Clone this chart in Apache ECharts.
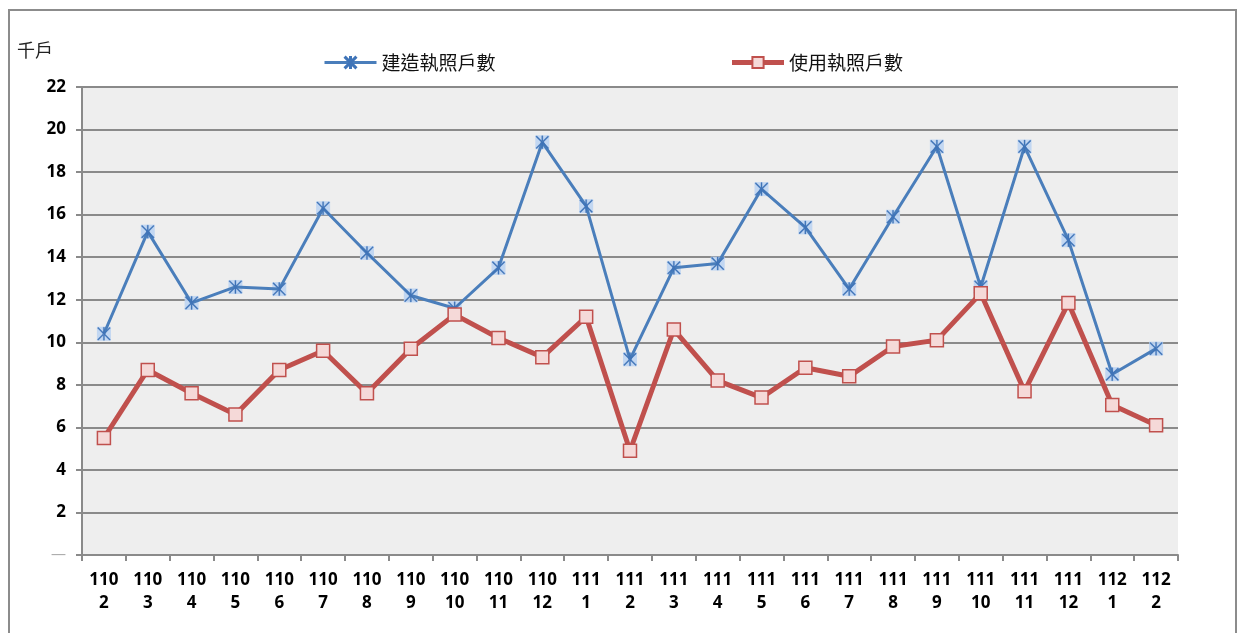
<!DOCTYPE html>
<html>
<head>
<meta charset="utf-8">
<script src="https://cdn.jsdelivr.net/npm/echarts@6/dist/echarts.min.js"></script>
<style>
html,body{margin:0;padding:0;background:#fff;}
#c{width:1244px;height:633px;}
</style>
</head>
<body>
<div id="c"></div>
<script>
const categories = ['110\n2','110\n3','110\n4','110\n5','110\n6','110\n7','110\n8','110\n9','110\n10','110\n11','110\n12',
  '111\n1','111\n2','111\n3','111\n4','111\n5','111\n6','111\n7','111\n8','111\n9','111\n10','111\n11','111\n12',
  '112\n1','112\n2'];
const buildPermits = [10.4,15.2,11.85,12.6,12.5,16.3,14.2,12.2,11.6,13.5,19.4,16.4,9.2,13.5,13.7,17.2,15.4,12.5,15.9,19.2,12.6,19.2,14.8,8.5,9.7];
const usePermits = [5.5,8.7,7.6,6.6,8.7,9.6,7.6,9.7,11.3,10.2,9.3,11.2,4.9,10.6,8.2,7.4,8.8,8.4,9.8,10.1,12.3,7.7,11.85,7.05,6.1];
const seriesNames = ['建造執照戶數','使用執照戶數'];
const unitLabel = '千戶';

const starPath = 'path://M9.1,0L10.9,0L10.9,20L9.1,20Z M0,1.3L1.3,0L20,18.7L18.7,20Z M20,1.3L18.7,0L0,18.7L1.3,20Z';
const gridColor = '#8a8a8a';
const numFont = 'Open Sans';

const chart = echarts.init(document.getElementById('c'));
chart.setOption({
  animation: false,
  backgroundColor: '#fff',
  graphic: [
    {type:'rect', shape:{x:9,y:10,width:1227,height:700}, style:{fill:'none',stroke:'#8c8c8c',lineWidth:2}, silent:true, z:100},
    {type:'text', left:17, top:41, style:{text:unitLabel, fontFamily:'"Noto Sans CJK TC"', fontSize:18, fill:'#222'}}
  ],
  legend: {
    left: 318, top: 48, itemGap: 234, itemWidth: 52, itemHeight: 14,
    textStyle: {fontFamily:'"Noto Sans CJK TC"', fontSize:19, color:'#111'},
    data: [
      {name: seriesNames[0], lineStyle:{width:3}},
      {name: seriesNames[1], lineStyle:{width:5}}
    ]
  },
  grid: {left: 82, right: 66, top: 87, bottom: 78, show: true, backgroundColor: '#eeeeee', borderWidth: 0},
  xAxis: {
    type: 'category', data: categories, boundaryGap: true,
    axisLine: {show:true, lineStyle:{color:gridColor, width:2}},
    axisTick: {show:true, length:6, lineStyle:{color:gridColor, width:2}},
    axisLabel: {interval:0, margin:14, fontFamily:numFont, fontWeight:'bold', fontSize:17, color:'#000', lineHeight:23}
  },
  yAxis: {
    type: 'value', min: 0, max: 22, interval: 2,
    axisLine: {show:true, lineStyle:{color:gridColor, width:2}},
    axisTick: {show:true, length:6, lineStyle:{color:gridColor, width:2}},
    splitLine: {show:true, lineStyle:{color:gridColor, width:2}},
    axisLabel: {margin:16, fontFamily:numFont, fontWeight:'bold', fontSize:17, color:'#000',
      formatter: v => v === 0 ? '{d|—}' : String(v),
      rich: {d:{color:'#aaa', fontSize:15, fontWeight:'normal'}}
    }
  },
  series: [
    {
      name: seriesNames[0], type:'line', data: buildPermits, z: 4,
      symbol: starPath, symbolSize: 13,
      lineStyle: {color:'#4a7ebb', width:3},
      itemStyle: {color:'#3f74b8', borderColor:'#3f74b8', borderWidth:0.3}
    },
    {
      name: 'bg', type:'scatter', data: buildPermits, z: 3,
      symbol: 'rect', symbolSize: 14, silent: true,
      itemStyle: {color:'#bcd4f2', opacity: 0.9}
    },
    {
      name: seriesNames[1], type:'line', data: usePermits, z: 5,
      symbol: 'rect', symbolSize: 13, showAllSymbol: true,
      lineStyle: {color:'#c0504d', width:5},
      itemStyle: {color:'#f5d9d8', borderColor:'#c0504d', borderWidth:1.5}
    }
  ]
});
</script>
</body>
</html>
